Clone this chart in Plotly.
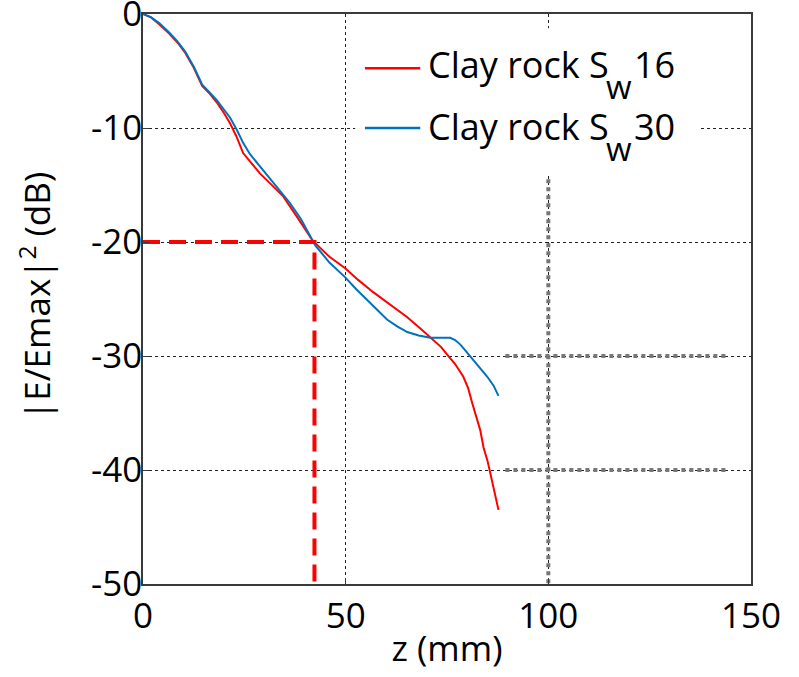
import plotly.graph_objects as go

# ---- data ----
z_red = [0, 2, 4, 6.4, 8.5, 10.4, 12.5, 14.6, 16.5, 18.3, 20, 21.5, 23, 24.7, 26.8, 28.9,
         31.5, 34.6, 38, 41.7, 42.5, 46, 49.9, 53, 56.8, 61, 65.2, 68.5, 71.6, 73.5, 75.1,
         77, 79, 80.2, 81.2, 82.2, 83.2, 84, 85, 85.7, 86.7, 87.7]
v_red = [0, -0.3, -0.9, -1.7, -2.5, -3.4, -4.7, -6.3, -7.0, -7.8, -8.7, -9.6, -10.7, -12.2,
         -13.1, -14, -14.9, -16, -17.8, -19.8, -20.1, -21.3, -22.3, -23.3, -24.4, -25.5,
         -26.6, -27.6, -28.6, -29.2, -29.9, -30.7, -31.8, -32.8, -34.1, -35.3, -36.5, -38.0,
         -39.2, -40.3, -41.8, -43.5]

z_blue = [0, 2, 4, 6.4, 8.5, 10.4, 12.5, 14.6, 16.5, 18.3, 20, 21.5, 23.2, 24.7, 26.4, 28,
          29.6, 32, 34, 36.3, 39, 42.5, 46, 49.9, 52.5, 55.3, 57.8, 60.2, 62.7, 65.2, 68,
          70.9, 73, 75.8, 77, 78.3, 79.5, 80.7, 82.8, 84.9, 86.5, 87.7]
v_blue = [0, -0.3, -0.8, -1.6, -2.4, -3.3, -4.6, -6.2, -6.9, -7.6, -8.4, -9.1, -10.2, -11.3,
          -12.3, -13.0, -13.7, -14.7, -15.6, -16.6, -18.0, -20.3, -21.8, -23.1, -24.1, -25.1,
          -26.0, -26.8, -27.4, -27.9, -28.2, -28.4, -28.4, -28.4, -28.6, -29.0, -29.5, -30.0,
          -30.9, -31.8, -32.6, -33.5]

series_prefix = "Clay rock S"
series_sub = "w"
series_suffix = ["16", "30"]
series_colors = ["#FF0000", "#0072BD"]

# -20 dB reference marker
z_ref = [0, 42.3, 42.3]
v_ref = [-20, -20, -50]

# grey dotted overlay lines
z_gv = [100, 100]
v_gv = [-14.5, -50]
z_gh = [89.4, 143.7]
v_gh1 = [-30, -30]
v_gh2 = [-40, -40]

x_ticks = [0, 50, 100, 150]
y_ticks = [0, -10, -20, -30, -40, -50]

FONT = "Open Sans"
grey = "#777777"

fig = go.Figure()
for zz, vv in [(z_gv, v_gv), (z_gh, v_gh1), (z_gh, v_gh2)]:
    fig.add_trace(go.Scatter(x=zz, y=vv, mode="lines", showlegend=False, hoverinfo="skip",
                             line=dict(color=grey, width=4, dash="4px,4px")))
fig.add_trace(go.Scatter(x=z_red, y=v_red, mode="lines",
                         name=series_prefix + series_sub + series_suffix[0],
                         showlegend=False, line=dict(color=series_colors[0], width=2)))
fig.add_trace(go.Scatter(x=z_blue, y=v_blue, mode="lines",
                         name=series_prefix + series_sub + series_suffix[1],
                         showlegend=False, line=dict(color=series_colors[1], width=2)))
fig.add_trace(go.Scatter(x=z_ref, y=v_ref, mode="lines", showlegend=False,
                         line=dict(color="#FF0000", width=4, dash="17px,9px")))

# ---- manual legend (white box hides grid, line samples, labels) ----
fig.add_shape(type="rect", xref="paper", yref="paper", x0=0.349, x1=0.915, y0=0.717, y1=0.975,
              fillcolor="white", line=dict(width=0), layer="above")
leg_line_y = [0.905, 0.800]
leg_text_y = [0.911, 0.803]
legfont = dict(family=FONT, size=36, color="black")
for suf, col, ly, ty in zip(series_suffix, series_colors, leg_line_y, leg_text_y):
    fig.add_shape(type="line", xref="paper", yref="paper", x0=0.365, x1=0.456, y0=ly, y1=ly,
                  line=dict(color=col, width=2.5), layer="above")
    fig.add_annotation(xref="paper", yref="paper", x=0.466, y=ty, xanchor="left",
                       yanchor="middle", showarrow=False, text=series_prefix, font=legfont)
    fig.add_annotation(xref="paper", yref="paper", x=0.759, y=ty - 0.039, xanchor="left",
                       yanchor="middle", showarrow=False, text=series_sub,
                       font=dict(family=FONT, size=33, color="black"))
    fig.add_annotation(xref="paper", yref="paper", x=0.805, y=ty, xanchor="left",
                       yanchor="middle", showarrow=False, text=suf, font=legfont)

# y-axis title as rotated annotation
fig.add_annotation(xref="paper", yref="paper", x=-0.178, y=0.505, xanchor="center",
                   yanchor="middle", textangle=-90, showarrow=False,
                   text="|E/Emax|<sup>2</sup> (dB)",
                   font=dict(family=FONT, size=35, color="black"))

axcommon = dict(showline=True, mirror=True, linecolor="#3a3a3a", linewidth=1.5,
                ticks="inside", ticklen=6, tickcolor="#3a3a3a",
                showgrid=True, gridcolor="#222222", gridwidth=1, griddash="3px,3px",
                zeroline=False, ticklabeloverflow="allow", automargin=False,
                tickfont=dict(family=FONT, size=35, color="black"))

fig.update_xaxes(range=[0, 150], tickvals=x_ticks, ticktext=[str(t) for t in x_ticks],
                 title=dict(text="z (mm)", font=dict(family=FONT, size=35, color="black"),
                            standoff=0),
                 **axcommon)
fig.update_yaxes(range=[-50, 0], tickvals=y_ticks, ticktext=[str(t) for t in y_ticks],
                 ticklabelstandoff=-8, **axcommon)

fig.update_layout(
    width=799, height=677,
    margin=dict(l=143, r=48, t=14, b=93),
    plot_bgcolor="white", paper_bgcolor="white",
    font=dict(family=FONT, color="black"),
    showlegend=False,
)

fig.write_html("out.html")
